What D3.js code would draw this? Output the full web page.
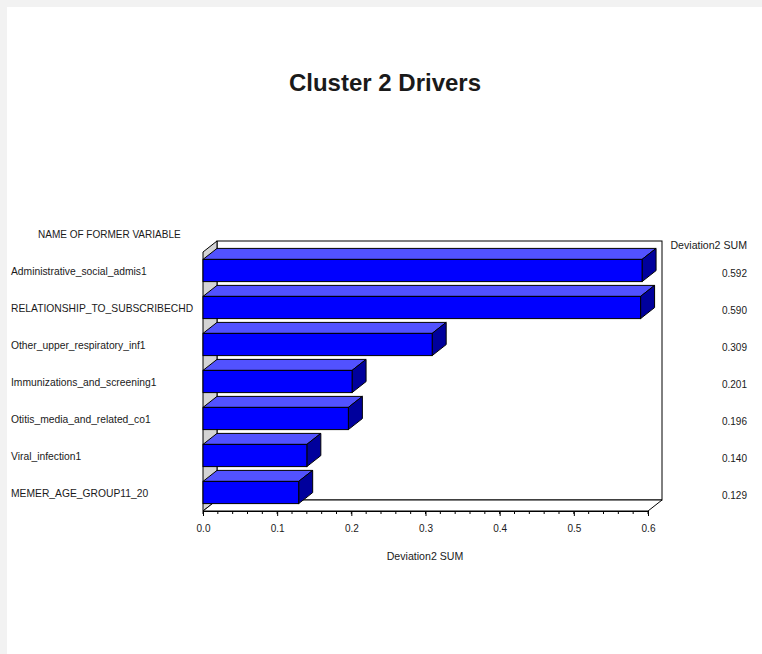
<!DOCTYPE html>
<html>
<head>
<meta charset="utf-8">
<script src="https://cdn.jsdelivr.net/npm/d3@7"></script>
<style>
  html, body { margin: 0; padding: 0; background: #f2f2f2; }
  svg { display: block; }
  text { font-family: "Liberation Sans", Arial, sans-serif; fill: #1a1a1a; }
</style>
</head>
<body>
<svg id="chart" width="762" height="654"></svg>
<script>
const title = "Cluster 2 Drivers";
const categories = [
  "Administrative_social_admis1",
  "RELATIONSHIP_TO_SUBSCRIBECHD",
  "Other_upper_respiratory_inf1",
  "Immunizations_and_screening1",
  "Otitis_media_and_related_co1",
  "Viral_infection1",
  "MEMER_AGE_GROUP11_20"
];
const values = [0.592, 0.590, 0.309, 0.201, 0.196, 0.140, 0.129];
const valueLabels = ["0.592", "0.590", "0.309", "0.201", "0.196", "0.140", "0.129"];
const xTicks = [0.0, 0.1, 0.2, 0.3, 0.4, 0.5, 0.6];
const xMinorStep = 0.02;
const categoryHeader = "NAME OF FORMER VARIABLE";
const valueHeader = "Deviation2 SUM";
const xAxisTitle = "Deviation2 SUM";

const svg = d3.select("#chart");
svg.append("rect").attr("x", 7).attr("y", 7).attr("width", 755).attr("height", 647).attr("fill", "#fff");

const dx = 14, dy = 11;
const x = d3.scaleLinear().domain([0, 0.6]).range([203, 648]);
const y = d3.scaleBand().domain(categories).range([252, 511]).paddingInner(0.4).paddingOuter(0.2);
const bw = y.bandwidth();
const x0 = x(0), x1 = x(0.6), yT = y.range()[0], yB = y.range()[1];

// title
svg.append("text").attr("x", 385).attr("y", 91).attr("text-anchor", "middle")
  .style("font-size", "24px").style("font-weight", "bold").text(title);

// back wall
svg.append("rect").attr("x", x0 + dx).attr("y", yT - dy).attr("width", x1 - x0).attr("height", yB - yT)
  .attr("fill", "#fff").attr("stroke", "#000").attr("stroke-width", 1);
// left wall
svg.append("polygon")
  .attr("points", [[x0, yT], [x0 + dx, yT - dy], [x0 + dx, yB - dy], [x0, yB]].map(p => p.join(",")).join(" "))
  .attr("fill", "#d4d4d4").attr("stroke", "#000").attr("stroke-width", 1);
// floor
svg.append("polygon")
  .attr("points", [[x0, yB], [x0 + dx, yB - dy], [x1 + dx, yB - dy], [x1, yB]].map(p => p.join(",")).join(" "))
  .attr("fill", "#fff").attr("stroke", "#000").attr("stroke-width", 1);

// bars
const bars = svg.append("g").selectAll("g").data(categories).join("g");
bars.each(function(c, i) {
  const g = d3.select(this);
  const yy = y(c), xe = x(values[i]);
  g.append("polygon")
    .attr("points", [[x0, yy], [x0 + dx, yy - dy], [xe + dx, yy - dy], [xe, yy]].map(p => p.join(",")).join(" "))
    .attr("fill", "#5252ff").attr("stroke", "#000").attr("stroke-width", 1);
  g.append("polygon")
    .attr("points", [[xe, yy], [xe + dx, yy - dy], [xe + dx, yy + bw - dy], [xe, yy + bw]].map(p => p.join(",")).join(" "))
    .attr("fill", "#00009c").attr("stroke", "#000").attr("stroke-width", 1);
  g.append("rect").attr("x", x0).attr("y", yy).attr("width", xe - x0).attr("height", bw)
    .attr("fill", "#0000ff").attr("stroke", "#000").attr("stroke-width", 1);
});

// x axis
const axisG = svg.append("g").attr("transform", `translate(0,${yB})`);
const minor = d3.range(0, 0.6 + 1e-9, xMinorStep);
axisG.selectAll("line.minor").data(minor).join("line").attr("class", "minor")
  .attr("x1", d => x(d)).attr("x2", d => x(d)).attr("y1", 0).attr("y2", 3)
  .attr("stroke", "#000");
axisG.call(d3.axisBottom(x).tickValues(xTicks).tickFormat(d3.format(".1f")).tickSize(5).tickSizeOuter(0));
axisG.select(".domain").attr("stroke", "#000");
axisG.selectAll(".tick line").attr("stroke", "#000");
axisG.selectAll(".tick text").attr("y", 14).style("font-size", "10px")
  .style("font-family", "'Liberation Sans', Arial, sans-serif").attr("fill", "#1a1a1a");

svg.append("text").attr("x", 425).attr("y", 560).attr("text-anchor", "middle")
  .style("font-size", "10.6px").text(xAxisTitle);

// category labels
svg.append("text").attr("x", 38).attr("y", 237.5).style("font-size", "10px").text(categoryHeader);
svg.append("g").selectAll("text").data(categories).join("text")
  .attr("x", 11).attr("y", d => y(d) + bw / 2 + 1).attr("dy", "0.35em")
  .style("font-size", "10.3px").text(d => d);

// value column
svg.append("text").attr("x", 747).attr("y", 248.5).attr("text-anchor", "end")
  .style("font-size", "10.6px").text(valueHeader);
svg.append("g").selectAll("text").data(categories).join("text")
  .attr("x", 747).attr("y", d => y(d) + bw / 2 + 2.5).attr("dy", "0.35em").attr("text-anchor", "end")
  .style("font-size", "10px").text((d, i) => valueLabels[i]);
</script>
</body>
</html>
